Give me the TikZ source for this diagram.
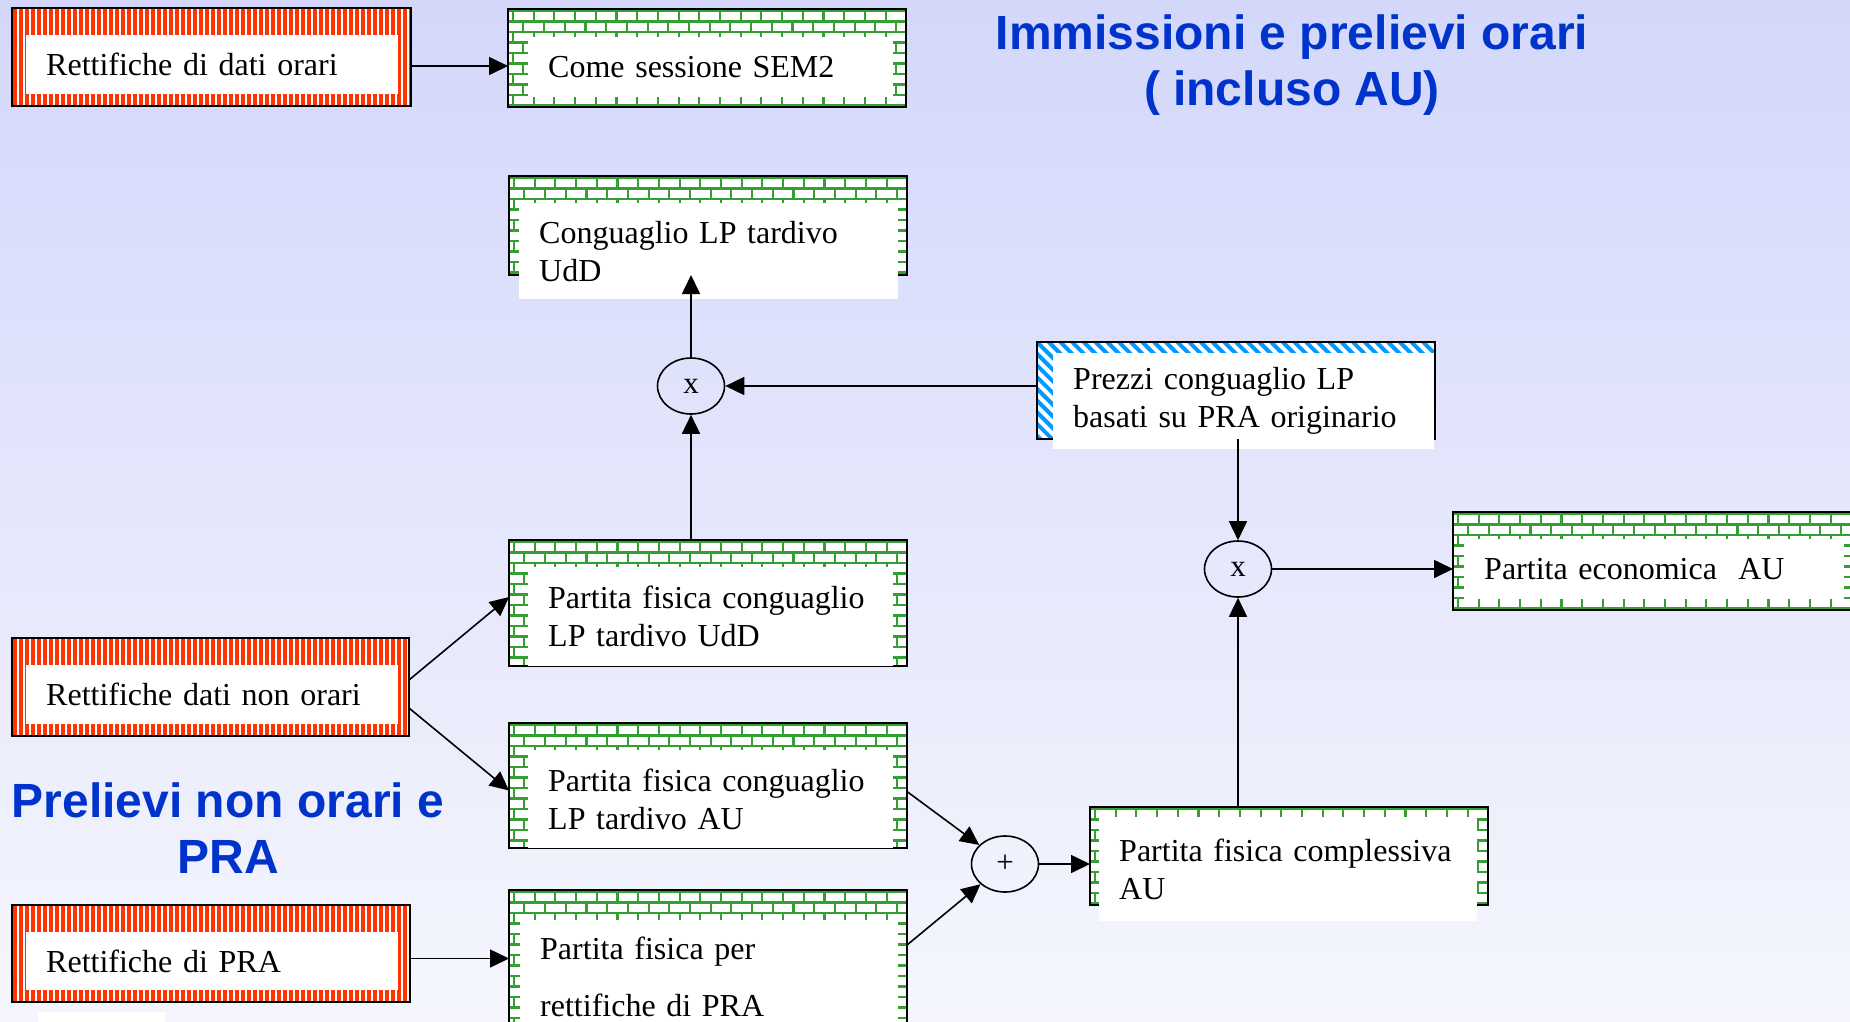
\documentclass[tikz,border=0pt]{standalone}
\usepackage{fontspec}
\setmainfont{Liberation Serif}
\newfontfamily\titlefont{Liberation Sans}
\usetikzlibrary{arrows.meta,shapes.geometric}

\definecolor{bgtop}{RGB}{211,215,250}
\definecolor{bgbottom}{RGB}{245,246,253}
\definecolor{titleblue}{RGB}{0,51,204}
\definecolor{brickgreen}{RGB}{52,160,52}
\definecolor{stripered}{RGB}{255,51,0}
\definecolor{stripeblue}{RGB}{0,153,255}

% riempimenti dei riquadri
\newcommand{\redfill}[1]{%
  \begin{scope}
    \clip (#1.north west) rectangle (#1.south east);
    \draw[stripered, line width=3.6pt, shift={(#1.north west)}]
      \foreach \i in {0,...,70} {(\i*6+3,0) -- (\i*6+3,160)};
  \end{scope}
  \draw[line width=1.6pt] (#1.north west) rectangle (#1.south east);}
\newcommand{\brickfill}[1]{%
  \begin{scope}
    \clip (#1.north west) rectangle (#1.south east);
    \draw[brickgreen, line width=2.1pt, shift={(#1.north west)}]
      \foreach \j in {0,...,15} {(0,\j*10.5+2) -- (420,\j*10.5+2)}
      \foreach \j [evaluate=\j as \off using {mod(\j,2)*10.35+5}] in {0,...,15}
        {\foreach \i in {0,...,20} {({\i*20.7+\off},{\j*10.5+2}) -- ++(0,10.5)}};
  \end{scope}
  \draw[line width=1.6pt] (#1.north west) rectangle (#1.south east);}
\newcommand{\bluefill}[1]{%
  \begin{scope}
    \clip (#1.north west) rectangle (#1.south east);
    \draw[stripeblue, line width=4pt, shift={(#1.north west)}]
      \foreach \i in {-10,...,36} {(\i*11.7,0) -- ++(110,110)};
  \end{scope}
  \draw[line width=1.6pt] (#1.north west) rectangle (#1.south east);}

\tikzset{
  frame/.style={anchor=north west, inner sep=0pt, outer sep=0pt, fill=white},
  textarea/.style={anchor=north west, fill=white, inner xsep=20pt, inner ysep=0pt,
    align=left, font=\fontsize{32}{38}\selectfont},
  op/.style={ellipse, draw, line width=1.6pt, minimum width=67pt, minimum height=56pt,
    inner sep=0pt, font=\fontsize{31}{34}\selectfont},
  arr/.style={-{Triangle[length=19pt,width=18pt]}, line width=1.6pt},
  title/.style={align=center, inner sep=0pt, text=titleblue,
    font=\titlefont\bfseries\fontsize{48}{56}\selectfont}
}

\begin{document}
\begin{tikzpicture}[x=1pt,y=-1pt]

	\useasboundingbox (0,0) rectangle (1850,1021);
	\shade[top color=bgtop, bottom color=bgbottom] (0,0) rectangle (1850,1021);

	% titoli
	\node[title] (tit1) at (1292,65) {Immissioni e prelievi orari\\( incluso AU)};
	\node[title] (tit2) at (228,828) {Prelievi non orari e\\PRA};

	% riquadri
	\node[frame, minimum width=399pt, minimum height=98pt] (orari) at (12,8) {};
	\redfill{orari}
	\node[textarea, text width=332pt, minimum height=59pt] (oraritxt) at (26,35) {Rettifiche di dati orari};

	\node[frame, minimum width=398pt, minimum height=98pt] (sem) at (508,9) {};
	\brickfill{sem}
	\node[textarea, text width=325pt, minimum height=60pt] (semtxt) at (528,37) {Come sessione SEM2};

	\node[frame, minimum width=398pt, minimum height=99pt] (congudd) at (509,176) {};
	\brickfill{congudd}
	\node[textarea, text width=339pt, minimum height=96pt] (conguddtxt) at (519,203) {Conguaglio LP tardivo\\UdD};

	\node[frame, minimum width=398pt, minimum height=97pt] (prezzi) at (1037,342) {};
	\bluefill{prezzi}
	\node[textarea, text width=341pt, minimum height=96pt] (prezzitxt) at (1053,353) {Prezzi conguaglio LP\\basati su PRA originario};

	\node[frame, minimum width=398pt, minimum height=126pt] (pfudd) at (509,540) {};
	\brickfill{pfudd}
	\node[textarea, text width=325pt, minimum height=99pt] (pfuddtxt) at (528,567) {Partita fisica conguaglio\\LP tardivo UdD};

	\node[frame, minimum width=397pt, minimum height=98pt] (nonorari) at (12,638) {};
	\redfill{nonorari}
	\node[textarea, text width=332pt, minimum height=59pt] (nonoraritxt) at (26,665) {Rettifiche dati non orari};

	\node[frame, minimum width=398pt, minimum height=125pt] (pfau) at (509,723) {};
	\brickfill{pfau}
	\node[textarea, text width=325pt, minimum height=98pt] (pfautxt) at (528,750) {Partita fisica conguaglio\\LP tardivo AU};

	\node[frame, minimum width=398pt, minimum height=97pt] (pra) at (12,905) {};
	\redfill{pra}
	\node[textarea, text width=332pt, minimum height=58pt] (pratxt) at (26,932) {Rettifiche di PRA};

	\node[frame, minimum width=398pt, minimum height=150pt] (perpra) at (509,890) {};
	\brickfill{perpra}
	\node[textarea, text width=338pt, minimum height=113pt] (perpratxt) at (520,920) {Partita fisica per\\[19pt]rettifiche di PRA};

	\node[frame, minimum width=398pt, minimum height=98pt] (compl) at (1090,807) {};
	\brickfill{compl}
	\node[textarea, text width=338pt, minimum height=104pt] (compltxt) at (1099,817) {Partita fisica complessiva\\AU};

	\node[frame, minimum width=402pt, minimum height=98pt] (econ) at (1453,512) {};
	\brickfill{econ}
	\node[textarea, text width=340pt, minimum height=60pt] (econtxt) at (1464,539) {Partita economica\ \ AU};

	\fill[white] (38,1012) rectangle (165,1025);

	% operatori
	\node[op] (xtop) at (691,386) {x};
	\node[op] (xr) at (1238,569) {x};
	\node[op] (plus) at (1005,864) {+};

	% frecce
	\draw[arr] ([yshift=-9pt]orari.east) -- ([yshift=-9pt]orari.east -| sem.west);
	\draw[arr] (xtop) -- (xtop |- congudd.south);
	\draw[arr] (prezzi.west |- xtop) -- (xtop);
	\draw[arr] (pfudd.north -| xtop) -- (xtop);
	\draw[arr] (prezzi.south -| xr) -- (xr);
	\draw[arr] (xr) -- (xr -| econ.west);
	\draw[arr] (compl.north -| xr) -- (xr);
	\draw[arr] ([yshift=7pt]nonorari.east) -- ([yshift=6pt]pfudd.west);
	\draw[arr] ([yshift=-21pt]nonorari.east) -- ([yshift=-5pt]pfau.west);
	\draw[arr] ([yshift=-6pt]pfau.east) -- (plus);
	\draw[arr] ([yshift=20pt]perpra.east) -- (plus);
	\draw[arr] (plus) -- (plus -| compl.west);
	\draw[arr] ([yshift=-5pt]pra.east) -- ([yshift=-5pt]pra.east -| perpra.west);

\end{tikzpicture}
\end{document}
